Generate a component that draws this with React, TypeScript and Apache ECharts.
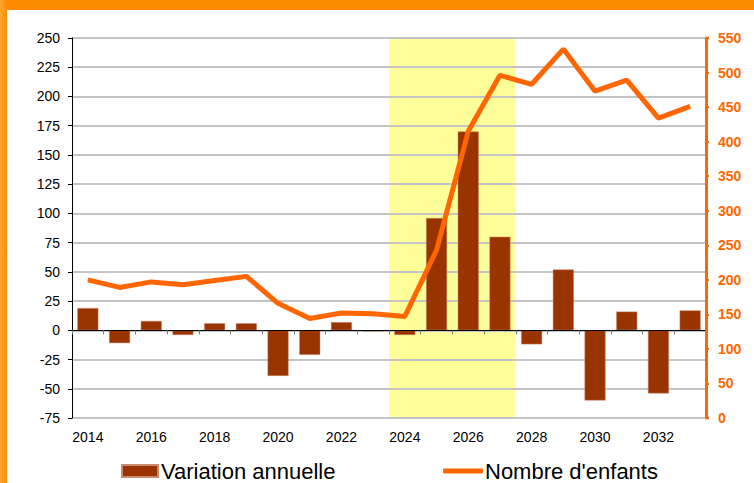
import React, { useEffect, useRef } from "react";
import * as echarts from "echarts";

const years = ["2014","2015","2016","2017","2018","2019","2020","2021","2022","2023","2024","2025","2026","2027","2028","2029","2030","2031","2032","2033"];
const variation = [19, -11, 8, -4, 6, 6, -39, -21, 7, -1, -4, 96, 170, 80, -12, 52, -60, 16, -54, 17];
const enfants = [200, 189, 197, 193, 199, 205, 166, 144, 152, 151, 147, 243, 415, 496, 483, 534, 473, 489, 434, 451];
const highlightYears = ["2024", "2025", "2026", "2027"];
const leftTicks = { min: -75, max: 250, interval: 25 };
const rightTicks = { min: 0, max: 550, interval: 50 };

const FONT = "'Liberation Sans', Arial, sans-serif";

export default function App() {
  const ref = useRef<HTMLDivElement>(null);
  useEffect(() => {
    document.body.style.margin = "0";
    const chart = echarts.init(ref.current!, null, { renderer: "svg" });
    const hStart = years.indexOf(highlightYears[0]);
    const hEnd = years.indexOf(highlightYears[highlightYears.length - 1]) + 1;
    chart.setOption({
      animation: false,
      backgroundColor: "#ffffff",
      textStyle: { fontFamily: FONT },
      graphic: [
        { type: "rect", shape: { x: 0, y: 0, width: 754, height: 10 }, style: { fill: "#ff8c00" }, z: 100 },
        {
          type: "rect",
          shape: { x: 0, y: 0, width: 7, height: 483 },
          style: {
            fill: new echarts.graphic.LinearGradient(0, 0, 1, 0, [
              { offset: 0, color: "#ffa733" },
              { offset: 1, color: "#ff8c00" },
            ]),
          },
          z: 100,
        },
      ],
      grid: { left: 72, right: 48, top: 38, bottom: 65, containLabel: false },
      legend: [
        {
          left: 121,
          top: 460,
          padding: 0,
          itemWidth: 36,
          itemHeight: 12,
          textStyle: { fontSize: 22, color: "#000", fontFamily: FONT, padding: [0, 0, 0, -2] },
          data: [{ name: "Variation annuelle", icon: "rect" }],
        },
        {
          left: 443,
          top: 460,
          padding: 0,
          itemWidth: 40,
          itemHeight: 5,
          textStyle: { fontSize: 22, color: "#000", fontFamily: FONT, padding: [0, 0, 0, -3] },
          data: [{ name: "Nombre d'enfants", icon: "roundRect", itemStyle: { color: "#ff6600" } }],
        },
      ],
      xAxis: [
        {
          type: "category",
          data: years,
          position: "bottom",
          axisLine: { onZero: false, lineStyle: { color: "#e8e8e8", width: 1 } },
          axisTick: { show: false },
          axisLabel: { interval: 1, color: "#000", fontSize: 14, margin: 12, fontFamily: FONT },
          splitLine: { show: false },
        },
        {
          type: "value",
          min: 0,
          max: years.length,
          interval: 1,
          position: "bottom",
          z: 3,
          axisLine: { show: true, onZero: true, onZeroAxisIndex: 0, lineStyle: { color: "#000", width: 1 } },
          axisTick: { show: true, length: 4, lineStyle: { color: "#777" } },
          axisLabel: { show: false },
          splitLine: { show: false },
        },
      ],
      yAxis: [
        {
          type: "value",
          ...leftTicks,
          position: "left",
          z: 1.5,
          axisLine: { show: true, lineStyle: { color: "#000", width: 1 } },
          axisTick: { show: true, length: 4, lineStyle: { color: "#000" } },
          axisLabel: { color: "#000", fontSize: 14, margin: 12, fontFamily: FONT },
          splitLine: { show: true, lineStyle: { color: "#c4c4c4", width: 2 } },
        },
        {
          type: "value",
          ...rightTicks,
          position: "right",
          z: 4,
          axisLine: { show: true, lineStyle: { color: "#ff6600", width: 3 } },
          axisTick: { show: true, length: 3, lineStyle: { color: "#ff6600", width: 2 } },
          axisLabel: { color: "#ff6600", fontSize: 14, fontWeight: "bold", margin: 12, fontFamily: FONT },
          splitLine: { show: false },
        },
        {
          type: "value",
          min: 0,
          max: 1,
          show: false,
          splitLine: { show: false },
        },
      ],
      series: [
        {
          name: "highlight",
          type: "scatter",
          xAxisIndex: 1,
          yAxisIndex: 2,
          data: [],
          z: -10,
          silent: true,
          markArea: {
            silent: true,
            z: -10,
            itemStyle: { color: "#ffff99" },
            data: [[{ xAxis: hStart, yAxis: 0 }, { xAxis: hEnd, yAxis: 1 }]],
          },
        },
        {
          name: "Variation annuelle",
          type: "bar",
          xAxisIndex: 0,
          yAxisIndex: 0,
          data: variation,
          barWidth: 21,
          itemStyle: { color: "#993300", borderColor: "#c98a70", borderWidth: 0.5 },
          z: 2,
        },
        {
          name: "Nombre d'enfants",
          type: "line",
          xAxisIndex: 0,
          yAxisIndex: 1,
          data: enfants,
          symbol: "none",
          lineStyle: { color: "#ff6600", width: 5 },
          itemStyle: { color: "#ff6600" },
          z: 3,
        },
      ],
    });
    return () => chart.dispose();
  }, []);
  return <div ref={ref} style={{ width: 754, height: 483 }} />;
}
